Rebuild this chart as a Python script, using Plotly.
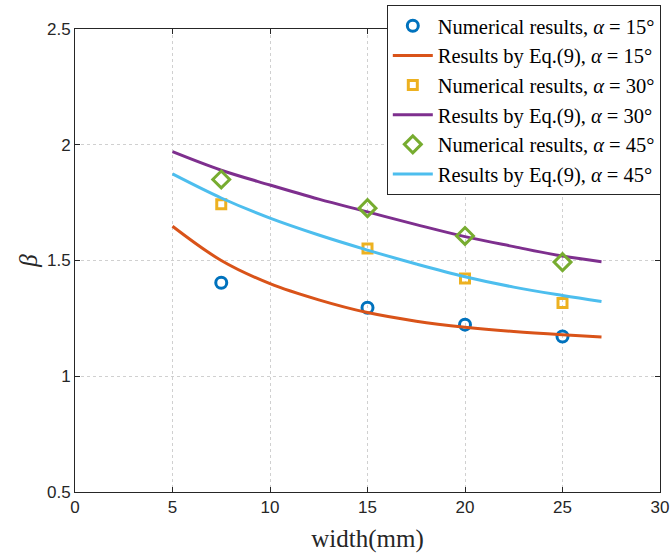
import plotly.graph_objects as go

# Numerical results
num_x = [7.5, 15, 20, 25]
num_15 = [1.404, 1.296, 1.223, 1.172]
num_30 = [1.743, 1.552, 1.422, 1.316]
num_45 = [1.850, 1.726, 1.606, 1.493]

# Results by Eq.(9)
eq_x = [5, 7.5, 10, 12.5, 15, 17.5, 20, 22.5, 25, 27]
eq_15 = [1.648, 1.50, 1.40, 1.33, 1.275, 1.238, 1.212, 1.193, 1.179, 1.170]
eq_30 = [1.970, 1.89, 1.826, 1.765, 1.710, 1.655, 1.603, 1.560, 1.519, 1.495]
eq_45 = [1.874, 1.77, 1.683, 1.610, 1.545, 1.485, 1.430, 1.385, 1.349, 1.323]

x_ticks = [0, 5, 10, 15, 20, 25, 30]
y_ticks = [0.5, 1, 1.5, 2, 2.5]
y_tick_labels = ["0.5", "1", "1.5", "2", "2.5"]

blue = "#0072BD"
orange = "#D95319"
yellow = "#EDB120"
purple = "#7E2F8E"
green = "#77AC30"
lightblue = "#4DBEEE"

fig = go.Figure()
fig.add_trace(go.Scatter(x=num_x, y=num_15, mode="markers",
                         name="Numerical results, <i>α</i> = 15°",
                         marker=dict(symbol="circle-open", size=11, color=blue, line=dict(width=3, color=blue))))
fig.add_trace(go.Scatter(x=eq_x, y=eq_15, mode="lines", line_shape="spline",
                         name="Results by Eq.(9), <i>α</i> = 15°",
                         line=dict(color=orange, width=3)))
fig.add_trace(go.Scatter(x=num_x, y=num_30, mode="markers",
                         name="Numerical results, <i>α</i> = 30°",
                         marker=dict(symbol="square-open", size=9, color=yellow, line=dict(width=3, color=yellow))))
fig.add_trace(go.Scatter(x=eq_x, y=eq_30, mode="lines", line_shape="spline",
                         name="Results by Eq.(9), <i>α</i> = 30°",
                         line=dict(color=purple, width=3)))
fig.add_trace(go.Scatter(x=num_x, y=num_45, mode="markers",
                         name="Numerical results, <i>α</i> = 45°",
                         marker=dict(symbol="diamond-open", size=13, color=green, line=dict(width=3, color=green))))
fig.add_trace(go.Scatter(x=eq_x, y=eq_45, mode="lines", line_shape="spline",
                         name="Results by Eq.(9), <i>α</i> = 45°",
                         line=dict(color=lightblue, width=3)))

axis_common = dict(
    showline=True, linecolor="#262626", linewidth=1, mirror="ticks",
    ticks="inside", ticklen=5, tickcolor="#262626",
    showgrid=True, gridcolor="#d0d0d0", griddash="dot", gridwidth=1,
    zeroline=False, automargin=False,
    tickfont=dict(family="Liberation Sans, Arial", size=17, color="#262626"),
)

fig.update_layout(
    width=671, height=557,
    margin=dict(l=75, r=11, t=29, b=65, autoexpand=False),
    paper_bgcolor="white", plot_bgcolor="white",
    xaxis=dict(range=[0, 30], tickvals=x_ticks,
               title=dict(text="width(mm)", font=dict(family="Liberation Serif, Times New Roman", size=25, color="#262626"), standoff=13),
               **axis_common),
    yaxis=dict(range=[0.5, 2.5], tickvals=y_ticks, ticktext=y_tick_labels,
               title=dict(text="<i>β</i>", font=dict(family="Liberation Serif, Times New Roman", size=25, color="#262626"), standoff=2),
               **axis_common),
    legend=dict(x=0.533, y=1.052, xanchor="left", yanchor="top",
                bgcolor="white", bordercolor="#262626", borderwidth=1,
                font=dict(family="Liberation Serif, Times New Roman", size=20.5, color="black"),
                itemwidth=40, tracegroupgap=0),
    showlegend=True,
)

fig.write_html("out.html", config={"displayModeBar": False},
               post_script="document.body.style.margin='0';document.body.style.padding='0';")
